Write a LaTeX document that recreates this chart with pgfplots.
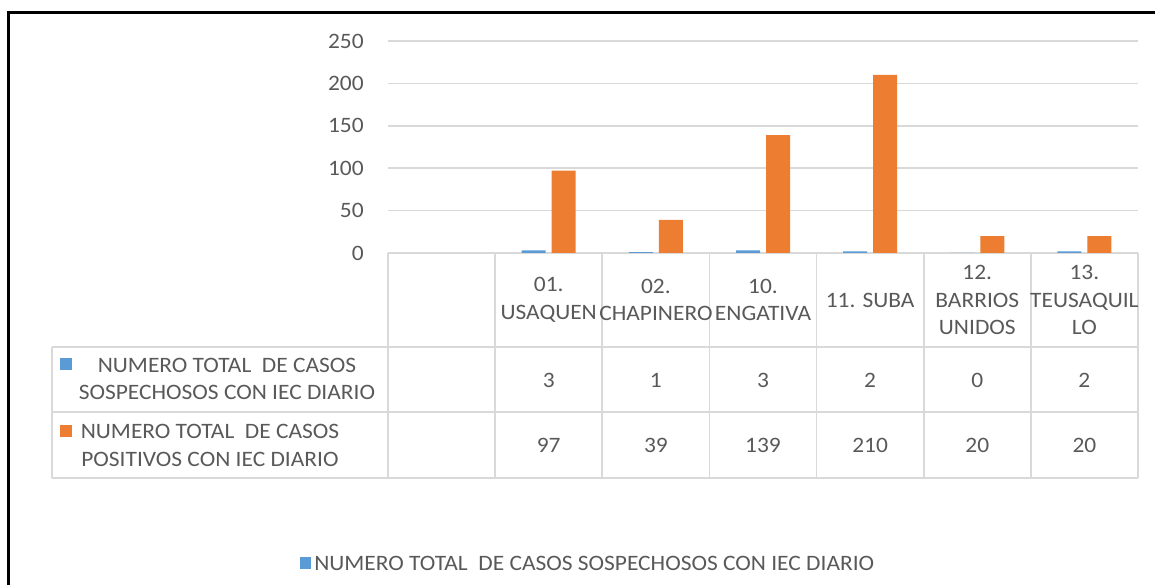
\documentclass[border=0pt]{standalone}
\usepackage{pgfplots}
\pgfplotsset{compat=1.18}
\usepackage{fontspec}
\setmainfont{Carlito}[FakeStretch=1.065]
\definecolor{bblue}{HTML}{5B9BD5}
\definecolor{borange}{HTML}{ED7D31}
\definecolor{gridc}{HTML}{D9D9D9}
\definecolor{txt}{HTML}{595959}
\begin{document}
\fontsize{16.5}{20.6}\selectfont
\begin{tikzpicture}[every node/.append style={text=txt, font=\fontsize{16.5}{20.6}\selectfont}]
\begin{axis}[at={(0,0)}, anchor=south west, scale only axis,
  width=562.5pt, height=159pt,
  xmin=0, xmax=7, ymin=0, ymax=250,
  ytick={0,50,...,250}, xtick=\empty,
  ymajorgrids, grid style={gridc, line width=1.1pt},
  axis line style={draw=none}, major tick length=0pt,
  yticklabel style={inner sep=0pt, xshift=-18pt},
  /pgf/number format/assume math mode=true,
  ybar, bar width=18pt, clip=false]
\addplot[fill=bblue, draw=none, bar shift=-11.25pt] coordinates {(1.5,3) (2.5,1) (3.5,3) (4.5,2) (5.5,0) (6.5,2)};
\addplot[fill=borange, draw=none, bar shift=11.25pt] coordinates {(1.5,97) (2.5,39) (3.5,139) (4.5,210) (5.5,20) (6.5,20)};
\end{axis}
\begin{scope}[x=0.75pt,y=-0.75pt,xshift=-291pt,yshift=189.75pt]
\useasboundingbox (0,0) rectangle (1155,585);
% border
\draw[black, line width=1.9pt] (8.3,585) -- (8.3,12.5) -- (1155,12.5);
% table grid
\begin{scope}[gridc, line width=1.3pt]
\draw (52,347) -- (1138,347);
\draw (52,412) -- (1138,412);
\draw (52,478) -- (1138,478);
\draw (52,347) -- (52,478);
\foreach \xx in {388,495.1,602.3,709.4,816.6,923.7,1030.9,1138} {\draw (\xx,253) -- (\xx,478);}
\end{scope}
% header
\foreach \xx/\lab in {548.7/{01.\\USAQUEN},655.9/{02.\\CHAPINERO},763.0/{10.\\ENGATIVA},870.1/{11. SUBA},977.3/{12.\\BARRIOS\\UNIDOS},1084.4/{13.\\TEUSAQUIL\\LO}}
  {\node[align=center, inner sep=0pt] at (\xx,300) {\lab};}
% row labels
\fill[bblue] (60,358) rectangle (72,370);
\node[align=center, inner sep=0pt] at (227,379) {NUMERO TOTAL\ \ DE CASOS\\SOSPECHOSOS CON IEC DIARIO};
\fill[borange] (60,425) rectangle (72,437);
\node[align=center, inner sep=0pt] at (210,445.5) {NUMERO TOTAL\ \ DE CASOS\\POSITIVOS CON IEC DIARIO};
% values
\foreach \xx/\a/\b in {548.7/3/97,655.9/1/39,763.0/3/139,870.1/2/210,977.3/0/20,1084.4/2/20}
  {\node[inner sep=0pt] at (\xx,380) {\a};
   \node[inner sep=0pt] at (\xx,445) {\b};}
% legend
\fill[bblue] (300,557) rectangle (311,569);
\node[anchor=west, inner sep=0pt] at (314,563) {NUMERO TOTAL\ \ DE CASOS SOSPECHOSOS CON IEC DIARIO};
\end{scope}
\end{tikzpicture}
\end{document}
